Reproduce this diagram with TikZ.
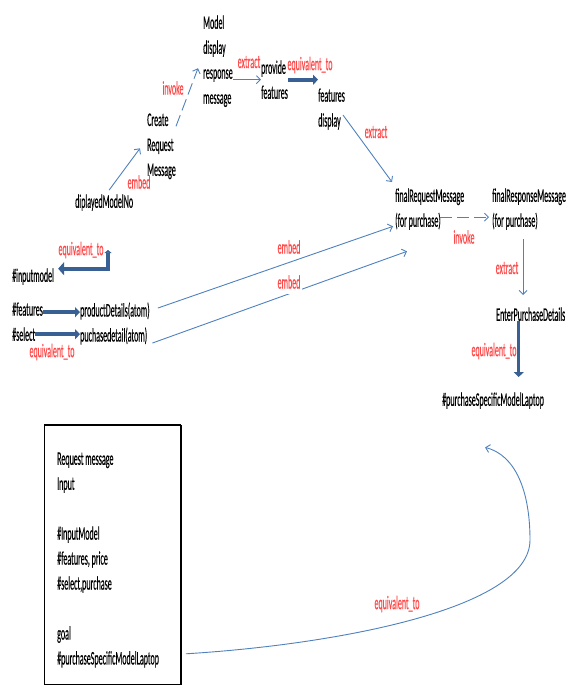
\documentclass[tikz,border=0pt]{standalone}
\usepackage{fontspec}
\setmainfont{Carlito}[FakeBold=0.6]
\usepackage{tikz}
\usetikzlibrary{arrows.meta}
\usetikzlibrary{positioning}
\definecolor{lnblue}{RGB}{79,129,189}
\definecolor{fatblue}{RGB}{56,96,146}
\definecolor{lblred}{RGB}{255,72,72}
\tikzset{
	txt/.style={inner sep=0pt, anchor=north west, align=left, yscale=2.4, font=\fontsize{8}{10.4}\selectfont},
	lbl/.style={inner sep=0pt, yscale=2.4, text=lblred, font=\fontsize{8}{10.4}\selectfont},
	conn/.style={draw=lnblue, line width=0.9pt, -{Straight Barb[length=4pt,width=8pt]}},
	dsh/.style={conn, dash pattern=on 12pt off 5pt},
	fat/.style={draw=fatblue, line width=4pt, -{Triangle[length=5pt,width=10pt]}}
}

\begin{document}
\begin{tikzpicture}[x=1pt, y=-1pt]

					\useasboundingbox (0,0) rectangle (567,686);

					\node[txt] (mdl) at (203,15) {Model\\display\\response\\message};
					\node[txt] (crt) at (147,113) {Create\\Request\\Message};
					\node[txt] (dmn) at (75,194) {diplayedModelNo};
					\node[txt] (prv) at (261,60) {provide\\features};
					\node[txt] (fdp) at (318,88) {features\\display};
					\node[txt] (frq) at (395,188) {finalRequestMessage\\(for purchase)};
					\node[txt] (frs) at (492,188) {finalResponseMessage\\(for purchase)};
					\node[txt] (epd) at (496,307) {EnterPurchaseDetails};
					\node[txt] (psl) at (442,392) {\#purchaseSpecificModelLaptop};
					\node[txt] (inm) at (12,268) {\#inputmodel};
					\node[txt] (fea) at (12,302) {\#features};
					\node[txt] (pdt) at (80,302) {productDetails(atom)};
					\node[txt] (sel) at (12,327) {\#select};
					\node[txt] (pcd) at (80,327) {puchasedetail(atom)};

					\node[draw, line width=0.8pt, minimum width=136pt, minimum height=259pt, inner sep=0pt, anchor=north west] (box) at (44,425) {};
					\draw[line width=2.5pt] (box.north west) -- (box.north east);
					\draw[line width=1.5pt] (box.north east) -- (box.south east);
					\node[txt] (gtx) at (57,452) {Request message\\Input\\[10.4pt]\#InputModel\\\#features, price\\\#select,purchase\\[10.4pt]goal\\\#purchaseSpecificModelLaptop};

					\draw[conn] ([xshift=5pt,yshift=4pt]dmn.north) -- ([xshift=-7pt,yshift=-2pt]crt.west);
					\draw[dsh] ([yshift=20pt]crt.east) -- ([xshift=-5pt,yshift=-7pt]mdl.west);
					\draw[conn] (mdl.east |- prv.west) -- (prv.west);
					\draw[fat] (prv.east) -- (prv.east -| fdp.west);
					\draw[conn] ([xshift=-2pt,yshift=-6pt]fdp.east) -- ([xshift=-3pt,yshift=6pt]frq.north west);
					\draw[dsh] ([xshift=-24pt,yshift=-8pt]frq.east) -- ([xshift=-3pt,yshift=-8pt]frs.west);
					\draw[conn] ([xshift=-6pt,yshift=-9pt]frs.south) -- ([xshift=-6pt,yshift=12pt]frs.south |- epd.north);
					\draw[fat, line width=3pt] ([xshift=-12pt]epd.south) -- ([xshift=-12pt,yshift=15pt]epd.south |- psl.north);

					\draw[conn] ([xshift=8pt,yshift=3pt]pdt.east) -- ([xshift=-2pt,yshift=4pt]frq.south west);
					\draw[conn] ([xshift=5pt,yshift=-7pt]pcd.east) -- ([xshift=12pt,yshift=-21pt]frq.south west);
					\draw[fat] ([yshift=-3pt]fea.east) -- ([yshift=-3pt]fea.east -| pdt.west);
					\draw[fat] (sel.east) -- (sel.east -| pcd.west);
					\coordinate (inmtop) at (108,250);
					\draw[fat, {Triangle[length=3pt,width=7pt]}-{Triangle[length=6pt,width=13pt]}] (inmtop) |- ([xshift=4pt,yshift=8pt]inm.east);

					\coordinate (bend) at (530,540);
					\draw[conn] ([xshift=5pt,yshift=31pt]box.south east) .. controls (330,645) and (530,610) .. (bend) .. controls (530,490) and (515,455) .. ([xshift=-8pt,yshift=-38pt]psl.south);

					\node[lbl] (l1) at (139,182) {embed};
					\node[lbl] (l2) at (173,88) {invoke};
					\node[lbl] (l3) at (249,62) {extract};
					\node[lbl] (l4) at (310,65) {equivalent\_to};
					\node[lbl] (l5) at (376,132) {extract};
					\node[lbl] (l6) at (464,237) {invoke};
					\node[lbl] (l7) at (507,268) {extract};
					\node[lbl] (l8) at (494,351) {equivalent\_to};
					\node[lbl] (l9) at (289,247) {embed};
					\node[lbl, fill=white, inner sep=2pt] (l10) at (289,282) {embed};
					\node[lbl] (l11) at (81,250) {equivalent\_to};
					\node[lbl] (l12) at (52,352) {equivalent\_to};
					\node[lbl] (l13) at (397,604) {equivalent\_to};

\end{tikzpicture}
\end{document}
